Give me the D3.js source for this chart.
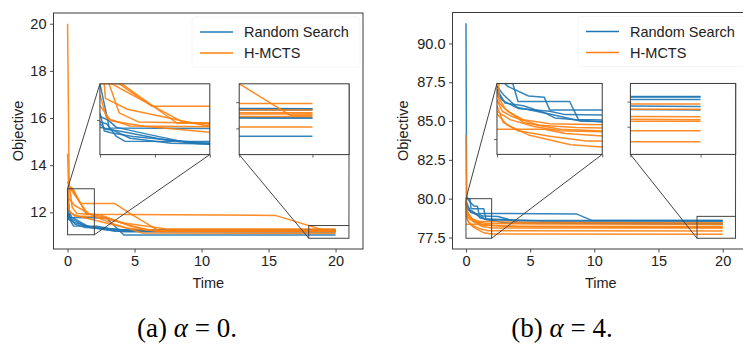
<!DOCTYPE html>
<html>
<head>
<meta charset="utf-8">
<script src="https://cdn.jsdelivr.net/npm/d3@7"></script>
<style>
  body { margin: 0; background: #fff; }
  svg { display: block; }
</style>
</head>
<body>
<svg id="chart" width="743" height="347"></svg>
<script>
// ===== data: each run is a list of [time, objective] =====
const seriesNames = ['Random Search', 'H-MCTS'];
const xTicks = [0, 5, 10, 15, 20];

// (a) alpha = 0
const leftYTicks = [12, 14, 16, 18, 20];
const leftRandom = [
  [[0, 13.0], [0.1, 12.3], [0.17, 11.78], [2.9, 11.76], [4.2, 11.04], [20, 11.04]],
  [[0, 11.95], [0.12, 11.9], [0.3, 11.55], [0.45, 11.42], [2.2, 11.41], [3.2, 11.3], [4.3, 11.25], [20, 11.25]],
  [[0, 12.1], [0.15, 12.0], [0.3, 11.8], [0.9, 11.6], [1.6, 11.38], [2.5, 11.35], [4.0, 11.24], [20, 11.24]],
  [[0, 11.9], [0.1, 11.75], [0.35, 11.7], [1.2, 11.45], [1.8, 11.35], [3.0, 11.25], [4.2, 11.18], [20, 11.18]],
  [[0, 11.8], [0.2, 11.75], [0.55, 11.5], [1.3, 11.36], [2.6, 11.33], [4.0, 11.26], [20, 11.25]],
  [[0, 12.2], [0.08, 11.7], [0.2, 11.65], [0.6, 11.55], [1.9, 11.36], [3.6, 11.2], [20, 11.18]]
];
const leftHmcts = [
  [[0, 20.0], [0.12, 13.2], [0.35, 12.2], [0.7, 11.95], [2.4, 11.9], [4.8, 11.4], [6.6, 11.21], [20, 11.21]],
  [[0, 13.1], [0.3, 13.05], [0.95, 12.38], [3.5, 12.38], [4.8, 11.9], [6.8, 11.22], [20, 11.22]],
  [[0, 13.0], [0.4, 13.0], [1.4, 11.92], [15.5, 11.87], [19.4, 11.2], [20, 11.2]],
  [[0, 13.3], [0.15, 13.05], [1.5, 11.95], [2.4, 11.84], [4.2, 11.55], [7.4, 11.29], [20, 11.29]],
  [[0, 12.7], [0.12, 12.05], [0.55, 11.84], [2.0, 11.82], [3.5, 11.5], [5.6, 11.12], [20, 11.11]],
  [[0, 12.4], [0.2, 11.98], [0.8, 11.83], [2.5, 11.6], [4.5, 11.32], [7.0, 11.19], [20, 11.19]],
  [[0, 14.5], [0.1, 12.6], [0.5, 12.3], [1.9, 11.85], [3.6, 11.62], [5.8, 11.26], [20, 11.24]]
];
const leftZoomNear = { x: [0, 2], y: [11.05, 13.0], xTicks: [0, 1, 2], yTicks: [12] };
const leftZoomFar = { x: [18, 21], y: [10.9, 11.44], xTicks: [18, 20], yTicks: [11.1, 11.3] };

// (b) alpha = 4
const rightYTicks = [77.5, 80.0, 82.5, 85.0, 87.5, 90.0];
const rightRandom = [
  [[0, 91.3], [0.05, 80.2], [0.2, 79.9], [0.6, 79.55], [0.9, 79.5], [1.0, 79.05], [8.6, 79.02], [9.8, 78.6], [20, 78.59]],
  [[0, 80.0], [0.3, 80.0], [0.4, 79.35], [1.38, 79.35], [1.55, 78.7], [2.2, 78.68], [6, 78.56], [20, 78.54]],
  [[0, 79.9], [0.12, 79.6], [0.4, 79.1], [1.0, 79.0], [1.3, 78.88], [2.5, 78.85], [4, 78.5], [20, 78.4]],
  [[0, 79.8], [0.15, 79.3], [0.5, 79.2], [0.9, 78.95], [1.1, 78.76], [3, 78.45], [20, 78.33]],
  [[0, 79.7], [0.1, 79.4], [0.35, 79.15], [1.0, 78.9], [1.6, 78.64], [4, 78.6], [20, 78.6]]
];
const rightHmcts = [
  [[0, 84.1], [0.04, 79.3], [0.2, 79.0], [0.5, 78.7], [1.0, 78.55], [2, 78.52], [5, 78.47], [20, 78.45]],
  [[0, 79.4], [0.1, 79.0], [0.3, 78.8], [0.8, 78.5], [1.5, 78.42], [2, 78.4], [6, 78.36], [20, 78.345]],
  [[0, 78.35], [0.9, 78.35], [1.3, 78.2], [2, 78.11], [20, 78.107]],
  [[0, 79.6], [0.15, 79.1], [0.5, 78.6], [1.2, 78.35], [2, 78.29], [4, 78.2], [20, 78.14]],
  [[0, 79.2], [0.12, 78.6], [0.4, 78.3], [1.0, 78.1], [1.7, 77.93], [20, 77.92]],
  [[0, 78.9], [0.2, 78.5], [0.6, 78.15], [1.4, 77.8], [2, 77.72], [20, 77.7]],
  [[0, 79.0], [0.25, 78.7], [0.7, 78.45], [1.2, 78.3], [3, 78.22], [20, 78.2]]
];
const rightZoomNear = { x: [0, 2], y: [77.45, 80.0], xTicks: [0, 1, 2], yTicks: [78] };
const rightZoomFar = { x: [18, 21], y: [77.45, 78.86], xTicks: [18, 20], yTicks: [78.0, 78.5] };

const captions = [['(a) ', 'α', ' = 0.'], ['(b) ', 'α', ' = 4.']];

// ===== styling =====
const colors = ['#1f77b4', '#ff7f0e'];
const spine = '#3a3a3a';
const font = '"Liberation Sans", Arial, sans-serif';
const fontSize = 14.5;

const svg = d3.select('#chart');
const defs = svg.append('defs');
let clipId = 0;

const line = (x, y) => d3.line().x(d => x(d[0])).y(d => y(d[1]));

function addClip(x, y, w, h) {
  const id = 'clip' + (clipId++);
  defs.append('clipPath').attr('id', id)
    .append('rect').attr('x', x).attr('y', y).attr('width', w).attr('height', h);
  return `url(#${id})`;
}

function drawRuns(g, x, y, runsA, runsB) {
  [runsA, runsB].forEach((runs, k) => {
    g.selectAll(null)
      .data(runs)
      .enter()
      .append('path')
      .attr('d', line(x, y))
      .attr('fill', 'none')
      .attr('stroke', colors[k])
      .attr('stroke-width', 1.5)
      .attr('stroke-opacity', 0.9)
      .attr('stroke-linejoin', 'round');
  });
}

function drawPanel(p) {
  const fw = p.right - p.left;
  const fh = p.bottom - p.top;

  // matplotlib-like autoscale: data + zoom boxes, 5% margins
  const allPts = p.runsA.concat(p.runsB).flat();
  const yMin = Math.min(d3.min(allPts, d => d[1]), p.zooms[1].y[0], p.zooms[0].y[0]);
  const yMax = d3.max(allPts, d => d[1]);
  const ySpan = yMax - yMin;
  const x = d3.scaleLinear().domain([-1.05, 22.05]).range([p.left, p.right]);
  const y = d3.scaleLinear().domain([yMin - 0.05 * ySpan, yMax + 0.05 * ySpan]).range([p.bottom, p.top]);

  const g = svg.append('g');

  // runs in the main axes
  const main = g.append('g').attr('clip-path', addClip(p.left, p.top, fw, fh));
  drawRuns(main, x, y, p.runsA, p.runsB);

  // axes
  const xAxis = d3.axisBottom(x).tickValues(xTicks).tickSize(3.5).tickPadding(3.5).tickFormat(d3.format('d'));
  const yAxis = d3.axisLeft(y).tickValues(p.yTicks).tickSize(3.5).tickPadding(3.5).tickFormat(p.yFormat);
  const xg = g.append('g').attr('transform', `translate(0, ${p.bottom})`).call(xAxis);
  const yg = g.append('g').attr('transform', `translate(${p.left}, 0)`).call(yAxis);
  [xg, yg].forEach(a => {
    a.select('.domain').remove();
    a.selectAll('line').attr('stroke', spine).attr('stroke-width', 0.9);
    a.selectAll('text').attr('font-family', font).attr('font-size', fontSize).attr('fill', '#222');
  });

  // zoom rectangles + connectors + insets
  const insetFrac = [[0.15, 0.4, 0.355, 0.3], [0.6, 0.4, 0.355, 0.3]];
  p.zooms.forEach((z, i) => {
    const f = insetFrac[i];
    const ix0 = p.left + f[0] * fw;
    const iw = f[2] * fw;
    const iy1 = p.bottom - f[1] * fh;
    const ih = f[3] * fh;
    const iy0 = iy1 - ih;

    const bx0 = x(z.x[0]), bx1 = x(z.x[1]);
    const by0 = y(z.y[1]), by1 = y(z.y[0]);

    g.append('rect')
      .attr('x', bx0).attr('y', by0)
      .attr('width', bx1 - bx0).attr('height', by1 - by0)
      .attr('fill', 'none').attr('stroke', '#444').attr('stroke-width', 1);

    // corner pairs: [inset corner, box corner]
    const inset = { ul: [ix0, iy0], ur: [ix0 + iw, iy0], ll: [ix0, iy1], lr: [ix0 + iw, iy1] };
    const box = { ul: [bx0, by0], ur: [bx1, by0], ll: [bx0, by1], lr: [bx1, by1] };
    const pairs = i === 0 ? ['ul', 'lr'] : ['ll', 'ur'];
    pairs.forEach(c => {
      g.append('line')
        .attr('x1', inset[c][0]).attr('y1', inset[c][1])
        .attr('x2', box[c][0]).attr('y2', box[c][1])
        .attr('stroke', '#444').attr('stroke-width', 1);
    });

    // inset axes
    const xi = d3.scaleLinear().domain(z.x).range([ix0, ix0 + iw]);
    const yi = d3.scaleLinear().domain(z.y).range([iy1, iy0]);
    const ig = g.append('g');
    ig.append('rect').attr('x', ix0).attr('y', iy0).attr('width', iw).attr('height', ih).attr('fill', '#fff');
    const inner = ig.append('g').attr('clip-path', addClip(ix0, iy0, iw, ih));
    drawRuns(inner, xi, yi, p.runsA, p.runsB);

    const ixg = ig.append('g').attr('transform', `translate(0, ${iy1})`)
      .call(d3.axisBottom(xi).tickValues(z.xTicks).tickSize(3).tickFormat(''));
    const iyg = ig.append('g').attr('transform', `translate(${ix0}, 0)`)
      .call(d3.axisLeft(yi).tickValues(z.yTicks).tickSize(3).tickFormat(''));
    [ixg, iyg].forEach(a => {
      a.select('.domain').remove();
      a.selectAll('line').attr('stroke', spine).attr('stroke-width', 0.8);
    });
    ig.append('rect').attr('x', ix0).attr('y', iy0).attr('width', iw).attr('height', ih)
      .attr('fill', 'none').attr('stroke', spine).attr('stroke-width', 1);
  });

  // main frame
  g.append('rect')
    .attr('x', p.left).attr('y', p.top).attr('width', fw).attr('height', fh)
    .attr('fill', 'none').attr('stroke', spine).attr('stroke-width', 1);

  // legend (frame is nearly invisible in the figure)
  const lx = p.right - 171, ly = p.top + 4;
  const leg = g.append('g');
  leg.append('rect')
    .attr('x', lx).attr('y', ly).attr('width', 168).attr('height', 50).attr('rx', 3)
    .attr('fill', '#fff').attr('fill-opacity', 0.8)
    .attr('stroke', '#f2f2f2').attr('stroke-width', 0.8);
  seriesNames.forEach((name, k) => {
    const yy = ly + 15 + k * 21;
    leg.append('line')
      .attr('x1', lx + 8).attr('x2', lx + 41).attr('y1', yy).attr('y2', yy)
      .attr('stroke', colors[k]).attr('stroke-width', 1.5);
    leg.append('text')
      .attr('x', lx + 52).attr('y', yy).attr('dy', '0.36em')
      .attr('font-family', font).attr('font-size', fontSize).attr('fill', '#222')
      .text(name);
  });

  // axis labels
  g.append('text')
    .attr('transform', `translate(${p.ylabelX}, ${(p.top + p.bottom) / 2}) rotate(-90)`)
    .attr('text-anchor', 'middle')
    .attr('font-family', font).attr('font-size', fontSize).attr('fill', '#222')
    .text('Objective');
  g.append('text')
    .attr('x', (p.left + p.right) / 2).attr('y', 288)
    .attr('text-anchor', 'middle')
    .attr('font-family', font).attr('font-size', fontSize).attr('fill', '#222')
    .text('Time');

  // caption
  const cap = svg.append('text')
    .attr('x', p.captionX).attr('y', 337)
    .attr('text-anchor', 'middle')
    .attr('font-family', '"Liberation Serif", "Times New Roman", serif')
    .attr('font-size', 27).attr('fill', '#000');
  cap.append('tspan').text(p.caption[0]);
  cap.append('tspan').attr('font-style', 'italic').text(p.caption[1]);
  cap.append('tspan').text(p.caption[2]);
}

drawPanel({
  left: 53.5, right: 363, top: 13, bottom: 249,
  runsA: leftRandom, runsB: leftHmcts,
  yTicks: leftYTicks, yFormat: d3.format('d'),
  zooms: [leftZoomNear, leftZoomFar],
  ylabelX: 23, caption: captions[0], captionX: 187
});

drawPanel({
  left: 452.5, right: 749, top: 12.5, bottom: 249,
  runsA: rightRandom, runsB: rightHmcts,
  yTicks: rightYTicks, yFormat: d3.format('.1f'),
  zooms: [rightZoomNear, rightZoomFar],
  ylabelX: 408, caption: captions[1], captionX: 562
});
</script>
</body>
</html>
